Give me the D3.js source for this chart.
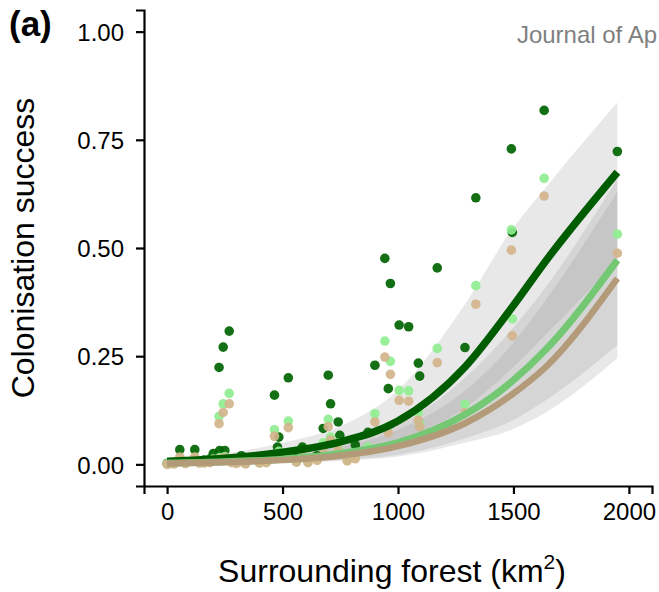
<!DOCTYPE html>
<html>
<head>
<meta charset="utf-8">
<script src="https://cdn.jsdelivr.net/npm/d3@7"></script>
<style>
  body { margin: 0; background: #fff; }
  text { font-family: "Liberation Sans", Arial, sans-serif; }
</style>
</head>
<body>
<div id="chart"></div>
<script>
// site-level observations (surrounding forest, colonisation success per scenario)
var siteX = [0, 10, 30, 55, 80, 120, 140, 160, 185, 200, 225, 228, 243, 250, 269, 280, 300, 322, 340, 400,
    430, 465, 478, 484, 525, 560, 586, 610, 650, 676, 698, 708, 741, 748, 780, 815, 870, 900, 943, 958,
    967, 1005, 1046, 1088, 1094, 1170, 1290, 1337, 1491, 1495, 1633, 1950];
var darkVals = [0.002, 0.003, 0.005, 0.034, 0.006, 0.034, 0.008, 0.010, 0.012, 0.025, 0.224, 0.032, 0.271, 0.032, 0.308, 0.012, 0.008, 0.020, 0.006, 0.010,
    0.012, 0.160, 0.040, 0.063, 0.200, 0.015, 0.040, 0.012, 0.020, 0.083, 0.206, 0.140, 0.098, 0.067, 0.020, 0.045, 0.074, 0.229, 0.476, 0.175,
    0.418, 0.322, 0.318, 0.234, 0.204, 0.454, 0.270, 0.616, 0.729, 0.536, 0.818, 0.723];
var lightVals = [0.001, 0.002, 0.002, 0.012, 0.003, 0.015, 0.004, 0.004, 0.006, 0.012, 0.111, 0.016, 0.140, 0.018, 0.164, 0.005, 0.004, 0.008, 0.002, 0.004,
    0.005, 0.080, 0.020, 0.030, 0.100, 0.006, 0.020, 0.006, 0.012, 0.050, 0.104, 0.063, 0.050, 0.030, 0.010, 0.020, 0.040, 0.117, 0.285, 0.087,
    0.238, 0.171, 0.170, 0.120, 0.095, 0.268, 0.139, 0.413, 0.542, 0.336, 0.661, 0.532];
var tanVals = [0.000, 0.001, 0.001, 0.017, 0.002, 0.017, 0.003, 0.003, 0.004, 0.010, 0.094, 0.013, 0.120, 0.016, 0.140, 0.004, 0.002, 0.006, 0.001, 0.003,
    0.004, 0.065, 0.015, 0.020, 0.085, 0.005, 0.017, 0.004, 0.009, 0.037, 0.087, 0.056, 0.032, 0.025, 0.008, 0.013, 0.032, 0.098, 0.248, 0.073,
    0.208, 0.148, 0.146, 0.102, 0.087, 0.235, 0.119, 0.370, 0.495, 0.297, 0.620, 0.488];

// fitted curves and confidence bands
var fitX = [0, 250, 500, 750, 1000, 1290, 1490, 1640, 1950];
var darkFit = [0.007, 0.014, 0.028, 0.052, 0.100, 0.225, 0.360, 0.470, 0.675];
var darkHi = [0.012, 0.025, 0.050, 0.088, 0.172, 0.370, 0.540, 0.640, 0.836];
var darkLo = [0.003, 0.007, 0.015, 0.028, 0.055, 0.130, 0.220, 0.300, 0.470];
var lightFit = [0.003, 0.006, 0.012, 0.025, 0.050, 0.115, 0.190, 0.265, 0.472];
var lightHi = [0.006, 0.012, 0.022, 0.045, 0.090, 0.200, 0.310, 0.410, 0.660];
var lightLo = [0.001, 0.002, 0.005, 0.010, 0.022, 0.060, 0.100, 0.148, 0.275];
var tanFit = [0.002, 0.005, 0.010, 0.020, 0.042, 0.095, 0.160, 0.225, 0.430];
var tanHi = [0.005, 0.010, 0.019, 0.040, 0.080, 0.170, 0.275, 0.380, 0.630];
var tanLo = [0.000, 0.001, 0.004, 0.008, 0.018, 0.050, 0.080, 0.120, 0.245];

var xTicks = [0, 500, 1000, 1500, 2000];
var yTicks = [0, 0.25, 0.5, 0.75, 1];

var W = 659, H = 592;
var margin = { left: 144, right: 7, top: 10, bottom: 106 };
var width = W - margin.left - margin.right,
    height = H - margin.top - margin.bottom;

var svg = d3.select("#chart")
    .append("svg")
        .attr("width", W)
        .attr("height", H)
        .append("g")
            .attr("transform", "translate(" + margin.left + "," + margin.top + ")");

var x = d3.scaleLinear().domain([-100, 2100]).range([0, width]);
var y = d3.scaleLinear().domain([-0.05, 1.05]).range([height, 0]);

function bandData(lo, hi){
    return fitX.map(function(d, i){ return { x: d, lo: lo[i], hi: hi[i] }; });
}
function lineData(v){
    return fitX.map(function(d, i){ return { x: d, y: v[i] }; });
}

var area = d3.area()
    .curve(d3.curveMonotoneX)
    .x(function(d){ return x(d.x); })
    .y0(function(d){ return y(d.lo); })
    .y1(function(d){ return y(d.hi); });

var line = d3.line()
    .curve(d3.curveMonotoneX)
    .x(function(d){ return x(d.x); })
    .y(function(d){ return y(d.y); });

[[darkLo, darkHi], [lightLo, lightHi], [tanLo, tanHi]].forEach(function(b){
    svg.append("path")
        .attr("d", area(bandData(b[0], b[1])))
        .attr("fill", "#8c8c8c")
        .attr("opacity", 0.2);
});

// points
var pointSets = [
    { vals: darkVals, color: "#006400" },
    { vals: lightVals, color: "#90ee90" },
    { vals: tanVals, color: "#d2b48c" }
];
pointSets.forEach(function(s){
    svg.append("g").selectAll("circle")
        .data(siteX)
        .enter()
        .append("circle")
        .attr("cx", function(d){ return x(d); })
        .attr("cy", function(d, i){ return y(s.vals[i]); })
        .attr("r", 4.8)
        .attr("fill", s.color)
        .attr("opacity", 0.92);
});

// fitted lines
var lineSets = [
    { vals: darkFit, color: "#005c00", w: 7.5 },
    { vals: lightFit, color: "#74c874", w: 7 },
    { vals: tanFit, color: "#b39b79", w: 6.5 }
];
lineSets.forEach(function(s){
    svg.append("path")
        .attr("d", line(lineData(s.vals)))
        .attr("fill", "none")
        .attr("stroke", s.color)
        .attr("stroke-width", s.w)
        .attr("stroke-linejoin", "round");
});

// axes
var xAxis = svg.append("g")
    .attr("transform", "translate(0," + height + ")")
    .call(d3.axisBottom(x).tickValues(xTicks).tickSize(8).tickPadding(9).tickFormat(d3.format("d")));
var yAxis = svg.append("g")
    .call(d3.axisLeft(y).tickValues(yTicks).tickSize(8).tickPadding(12).tickFormat(d3.format(".2f")));

[xAxis, yAxis].forEach(function(a){
    a.select(".domain").attr("stroke", "#000").attr("stroke-width", 2.2);
    a.selectAll(".tick line").attr("stroke", "#000").attr("stroke-width", 2.2);
    a.selectAll(".tick text")
        .attr("fill", "#000")
        .attr("font-size", "24px")
        .attr("font-family", "Liberation Sans, Arial, sans-serif");
});
yAxis.selectAll(".tick text").attr("dy", "0.36em");

// titles
var root = d3.select("#chart svg");
var xt = root.append("text")
    .attr("x", margin.left + width / 2 - 6)
    .attr("y", 582)
    .attr("text-anchor", "middle")
    .attr("font-size", "32px")
    .attr("fill", "#000");
xt.append("tspan").text("Surrounding forest (km");
xt.append("tspan").attr("font-size", "21px").attr("dy", "-13").text("2");
xt.append("tspan").attr("dy", "13").text(")");

root.append("text")
    .attr("transform", "translate(34," + (margin.top + height / 2) + ") rotate(-90)")
    .attr("text-anchor", "middle")
    .attr("font-size", "32px")
    .attr("fill", "#000")
    .text("Colonisation success");

root.append("text")
    .attr("x", 9)
    .attr("y", 36)
    .attr("font-size", "35px")
    .attr("font-weight", "bold")
    .attr("fill", "#000")
    .text("(a)");

root.append("text")
    .attr("x", 657)
    .attr("y", 43)
    .attr("text-anchor", "end")
    .attr("font-size", "24px")
    .attr("font-family", "Open Sans, sans-serif")
    .attr("fill", "#808080")
    .text("Journal of Ap");
</script>
</body>
</html>
